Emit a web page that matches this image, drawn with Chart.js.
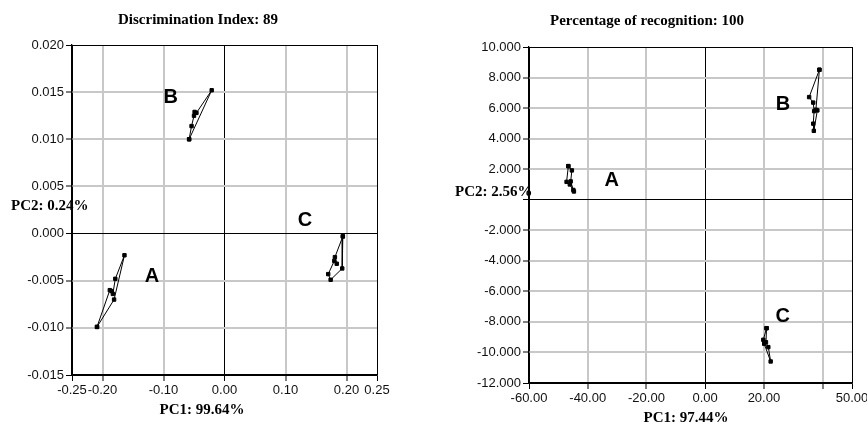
<!DOCTYPE html>
<html lang="en">
<head>
  <meta charset="UTF-8">
  <title>PCA score plots</title>
  <script src="https://cdn.jsdelivr.net/npm/chart.js"></script>
  <style>
    body {
      margin: 0;
      background: #fff;
      overflow: hidden;
      width: 867px;
      height: 426px;
      position: relative;
    }
    .panel { position: absolute; top: 0; height: 426px; }
    #leftPanel { left: 0; width: 430px; }
    #rightPanel { left: 430px; width: 450px; }
  </style>
</head>
<body>
  <div class="panel" id="leftPanel"><canvas id="leftChart"></canvas></div>
  <div class="panel" id="rightPanel"><canvas id="rightChart"></canvas></div>

  <script>
    // ---- left plot (Discrimination Index) ----
    const leftGroupA = [[-0.209, -0.0099], [-0.188, -0.0060], [-0.185, -0.0061], [-0.183, -0.0064], [-0.179, -0.0048], [-0.164, -0.0023], [-0.181, -0.0070], [-0.209, -0.0099]];
    const leftGroupB = [[-0.058, 0.0100], [-0.021, 0.0152], [-0.046, 0.0128], [-0.049, 0.0129], [-0.050, 0.0125], [-0.054, 0.0114], [-0.058, 0.0100]];
    const leftGroupC = [[0.194, -0.0003], [0.193, -0.0037], [0.174, -0.0049], [0.170, -0.0043], [0.180, -0.0029], [0.184, -0.0032], [0.181, -0.0025], [0.194, -0.0003]];
    const leftTicksX = [-0.25, -0.20, -0.10, 0.00, 0.10, 0.20, 0.25];
    const leftTicksY = [0.020, 0.015, 0.010, 0.005, 0.000, -0.005, -0.010, -0.015];
    const leftNames = ['A', 'B', 'C'];
    const leftNameX = [-0.119, -0.088, 0.132];
    const leftNameY = [-0.0046, 0.0144, 0.0014];

    // ---- right plot (Percentage of recognition) ----
    const rightGroupA = [[-46.6, 2.20], [-45.4, 1.92], [-45.8, 1.20], [-44.9, 0.64], [-44.7, 0.54], [-46.1, 1.00], [-47.2, 1.17], [-46.6, 2.20]];
    const rightGroupB = [[38.9, 8.51], [35.4, 6.72], [36.8, 6.36], [37.1, 5.80], [36.8, 4.98], [37.0, 4.51], [38.2, 5.85], [37.7, 5.89], [38.9, 8.51]];
    const rightGroupC = [[20.9, -8.41], [19.8, -9.17], [20.1, -9.43], [22.3, -10.59], [21.5, -9.65], [20.7, -9.33], [20.9, -8.41]];
    const rightTicksX = [-60, -40, -20, 0, 20, 40, 50];
    const rightTickLabelsX = ['-60.00', '-40.00', '-20.00', '0.00', '20.00', '', '50.00'];
    const rightTicksY = [10, 8, 6, 4, 2, 0, -2, -4, -6, -8, -10, -12];
    const rightNames = ['A', 'B', 'C'];
    const rightNameX = [-31.8, 26.5, 26.4];
    const rightNameY = [1.26, 6.24, -7.64];

    const serifBold = 'bold 15px "Liberation Serif", "Times New Roman", serif';
    const gridGray = '#c8c8c8';

    // draws titles, axis captions and the group letters
    const textPlugin = {
      id: 'texts',
      afterDraw(chart, args, opts) {
        const ctx = chart.ctx;
        ctx.save();
        ctx.fillStyle = '#000';
        ctx.textBaseline = 'middle';
        (opts.items || []).forEach(t => {
          ctx.font = serifBold;
          ctx.textAlign = t.align || 'center';
          ctx.fillText(t.text, t.x, t.y);
        });
        const xs = chart.scales.x, ys = chart.scales.y;
        ctx.font = 'bold 20px "Liberation Sans", Arial, sans-serif';
        ctx.textAlign = 'center';
        (opts.names || []).forEach((n, i) => {
          ctx.fillText(n, xs.getPixelForValue(opts.nameX[i]), ys.getPixelForValue(opts.nameY[i]));
        });
        ctx.restore();
      }
    };

    function toPoints(arr) {
      return arr.map(p => ({ x: p[0], y: p[1] }));
    }

    function groupDataset(arr) {
      return {
        data: toPoints(arr),
        showLine: true,
        borderColor: '#000',
        borderWidth: 1,
        backgroundColor: '#000',
        pointStyle: 'rect',
        pointRadius: 2.4,
        tension: 0
      };
    }

    function makeScale(min, max, ticks, labelFn, fit) {
      return {
        type: 'linear',
        min: min,
        max: max,
        afterBuildTicks: s => { s.ticks = ticks.map(v => ({ value: v })); },
        afterFit: fit,
        border: { display: true, color: '#000', width: 1.3 },
        grid: {
          color: c => (c.tick.value === 0 || c.tick.value === min || c.tick.value === max) ? '#000' : gridGray,
          lineWidth: c => (c.tick.value === 0 || c.tick.value === min || c.tick.value === max) ? 1 : 2,
          tickColor: '#000',
          tickWidth: 1,
          tickLength: 6
        },
        ticks: {
          autoSkip: false,
          maxRotation: 0,
          minRotation: 0,
          padding: 2,
          color: '#111',
          font: { family: '"Liberation Sans", Arial, sans-serif', size: 13 },
          callback: labelFn
        }
      };
    }

    // left chart
    new Chart(document.getElementById('leftChart'), {
      type: 'scatter',
      data: { datasets: [groupDataset(leftGroupA), groupDataset(leftGroupB), groupDataset(leftGroupC)] },
      options: {
        responsive: true,
        maintainAspectRatio: false,
        animation: false,
        layout: { padding: { left: 0, right: 53, top: 45, bottom: 0 } },
        scales: {
          x: makeScale(-0.25, 0.25, leftTicksX, v => v.toFixed(2), s => { s.height = 51; }),
          y: makeScale(-0.015, 0.020, leftTicksY, v => v.toFixed(3), s => { s.width = 72; })
        },
        plugins: {
          legend: { display: false },
          tooltip: { enabled: false },
          texts: {
            items: [
              { text: 'Discrimination Index: 89', x: 198, y: 20 },
              { text: 'PC1: 99.64%', x: 202, y: 410 },
              { text: 'PC2: 0.24%', x: 11, y: 206, align: 'left' }
            ],
            names: leftNames, nameX: leftNameX, nameY: leftNameY
          }
        }
      },
      plugins: [textPlugin]
    });

    // right chart
    new Chart(document.getElementById('rightChart'), {
      type: 'scatter',
      data: { datasets: [groupDataset(rightGroupA), groupDataset(rightGroupB), groupDataset(rightGroupC)] },
      options: {
        responsive: true,
        maintainAspectRatio: false,
        animation: false,
        layout: { padding: { left: 0, right: 28, top: 47, bottom: 0 } },
        scales: {
          x: makeScale(-60, 50, rightTicksX, (v, i) => rightTickLabelsX[i], s => { s.height = 43; }),
          y: makeScale(-12, 10, rightTicksY, v => v === 0 ? '' : v.toFixed(3), s => { s.width = 99; })
        },
        plugins: {
          legend: { display: false },
          tooltip: { enabled: false },
          texts: {
            items: [
              { text: 'Percentage of recognition: 100', x: 217, y: 21 },
              { text: 'PC1: 97.44%', x: 256, y: 418 },
              { text: 'PC2: 2.56%', x: 25, y: 192, align: 'left' }
            ],
            names: rightNames, nameX: rightNameX, nameY: rightNameY
          }
        }
      },
      plugins: [textPlugin]
    });
  </script>
</body>
</html>
